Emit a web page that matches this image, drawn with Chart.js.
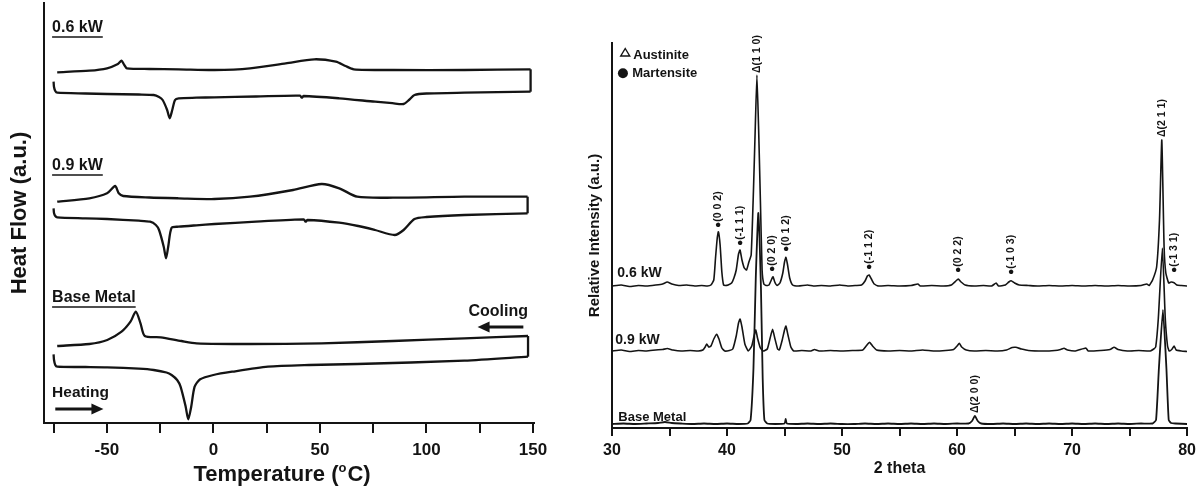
<!DOCTYPE html>
<html>
<head>
<meta charset="utf-8">
<script src="https://cdn.jsdelivr.net/npm/chart.js@4.4.0/dist/chart.umd.min.js"></script>
<style>
  html, body { margin: 0; padding: 0; background: #fff; }
  #wrap { position: relative; width: 1201px; height: 491px; overflow: hidden; }
  #dsc { position: absolute; left: 0; top: 0; }
  #xrd { position: absolute; left: 560px; top: 0; }
</style>
</head>
<body>
<div id="wrap">
  <canvas id="dsc" width="560" height="491"></canvas>
  <canvas id="xrd" width="641" height="491"></canvas>
</div>
<script>
// ---- DSC panel (temperature in °C, heat flow in a.u.) ----
const tempTicks = [-75, -50, -25, 0, 25, 50, 75, 100, 125, 150];
const tempLabels = [-50, 0, 50, 100, 150];

const heat06 = [[-75, 341.3], [-74.8, 336], [-74.2, 332], [-73.3, 330.3], [-60, 329.5], [-49.9, 329], [-35, 328.5], [-28, 328], [-25.5, 326], [-23.8, 323], [-21.7, 313], [-20.5, 304.7], [-19.3, 313], [-18, 323], [-16.3, 324.7], [-8, 325.3], [0.5, 325.7], [20, 326.5], [40.7, 327.3], [41.5, 325.3], [42.4, 327], [59.1, 324.7], [75.9, 321.3], [84, 319.8], [89.3, 319], [91.8, 323], [94.4, 328], [100, 329.5], [117.8, 330.3], [148.9, 331.3]];
const cool06 = [[-73.3, 350.7], [-58.2, 352.3], [-49.9, 354.7], [-44.8, 359], [-43.1, 362.3], [-41.8, 358], [-40.6, 354.7], [-30, 354], [-16.3, 353.7], [0.5, 353], [17.2, 354.7], [34, 359.7], [47.4, 363.7], [57.5, 361.3], [62, 357], [65.9, 353.7], [84.3, 353], [117.8, 353], [148.9, 353.7]];

const heat09 = [[-75, 214.7], [-74.8, 210], [-74.2, 207], [-73.3, 205.7], [-60, 204.7], [-49.9, 204], [-35, 202.3], [-29.7, 201.3], [-27, 198], [-25.5, 193], [-23.3, 176.3], [-22.2, 164.7], [-21.2, 176.3], [-19.6, 195.3], [-16.3, 196.3], [-8, 197.7], [0.5, 199], [20, 201.3], [42.4, 203.7], [43.3, 201.3], [44.2, 203], [59.1, 200.3], [68, 197], [75.9, 193], [85.1, 188], [89.3, 193], [94.4, 204], [100, 206], [117.8, 208], [147.5, 209.7]];
const cool09 = [[-73.3, 221.3], [-58.2, 224.7], [-49.9, 229.7], [-46.1, 237], [-44.4, 229.7], [-42.3, 227], [-30, 225.5], [-16.3, 224.7], [0.5, 224], [17.2, 226.3], [37.4, 233], [50.8, 239], [59.1, 234.7], [67.5, 226.3], [84.3, 225.3], [117.8, 226.3], [147.5, 226.3]];

const heatBase = [[-75, 68.7], [-74.8, 63], [-74.2, 58], [-73.3, 56.3], [-60, 56], [-49.9, 55.7], [-35, 54.3], [-28, 53], [-22, 50.5], [-19.6, 48], [-17, 43], [-15.4, 36.3], [-13, 16.3], [-11.8, 3.7], [-10.4, 16.3], [-8.8, 36.3], [-6.2, 43.7], [0, 48], [8.8, 51.3], [25.6, 56.3], [45, 58], [67.5, 59], [117.8, 62.3], [147.7, 66.3]];
const coolBase = [[-73.3, 77], [-58.2, 79], [-49.8, 83], [-43.1, 91.3], [-38.9, 101.3], [-36.4, 111.3], [-34.2, 99.7], [-32.2, 87], [-24.7, 85.7], [-15, 82], [-7.9, 79.7], [17.2, 79], [50.8, 79.7], [84.3, 82], [117.8, 84.7], [147.7, 87]];

const dscTags = [["0.6 kW", -75.7, 395], ["0.9 kW", -75.7, 257], ["Base Metal", -75.7, 125]];
const coolWord = ["Cooling", 147.7, 111];
const heatWord = ["Heating", -75.7, 30];
const coolArrow = [145.5, 124, 96];
const heatArrow = [-74.2, -51.6, 14];

// ---- XRD panel (2 theta in degrees, relative intensity in a.u.) ----
const thetaTicks = [30, 35, 40, 45, 50, 55, 60, 65, 70, 75, 80];
const thetaLabels = [30, 40, 50, 60, 70, 80];

const xrd06 = [[30, 142], [30.8, 143], [31.5, 141.5], [32.3, 142.5], [33, 142], [33.8, 143], [34.4, 144], [34.8, 146], [35.2, 144], [35.8, 142.5], [36.5, 143], [37.2, 142], [37.8, 142.5], [38.3, 142], [38.6, 143], [38.85, 148], [39, 170], [39.15, 190], [39.25, 196.3], [39.4, 183], [39.55, 156], [39.7, 143], [39.85, 142.5], [40.1, 143], [40.4, 145], [40.6, 150], [40.8, 158], [41, 174], [41.13, 178], [41.3, 168], [41.5, 160], [41.7, 158], [41.9, 166], [42.1, 173], [42.3, 238], [42.45, 298], [42.6, 353], [42.75, 298], [42.9, 228], [43.05, 158], [43.2, 144], [43.4, 142.5], [43.65, 143], [43.85, 148], [44, 151.3], [44.15, 146], [44.35, 142.5], [44.6, 145], [44.85, 155], [45, 166], [45.12, 170.7], [45.25, 164], [45.45, 150], [45.7, 143], [46.2, 142], [47, 143], [47.5, 142], [48.2, 142.5], [49, 142], [49.8, 143], [50.5, 142], [51.2, 142.5], [51.7, 143], [52, 147], [52.2, 152], [52.35, 153], [52.55, 149], [52.8, 144], [53.2, 142], [54, 142.5], [55, 142], [56, 142.5], [56.6, 144], [56.8, 142], [57.8, 142.5], [58.8, 142], [59.5, 143], [59.9, 147], [60.1, 149], [60.35, 146], [60.7, 143], [61.5, 142], [62.3, 142.5], [63, 142], [63.4, 145], [63.6, 142], [64.2, 143], [64.5, 146], [64.7, 147.3], [65, 145], [65.4, 143], [66.2, 142.5], [67, 142], [68, 142.5], [69, 142], [70, 142.5], [71, 142], [72, 142.5], [73, 142], [74, 142.5], [75, 142], [76, 142.5], [76.5, 144], [76.7, 142.5], [77, 148], [77.35, 161], [77.6, 208], [77.8, 288], [78, 181], [78.15, 155], [78.4, 145], [78.6, 146], [78.87, 145.3], [79.1, 143], [79.5, 142.5], [80, 142]];

const xrd09 = [[30, 77], [30.8, 78], [31.5, 76.5], [32.3, 77.5], [33, 77], [33.8, 78], [34.4, 78.5], [34.8, 79.5], [35.3, 78], [36, 77], [36.8, 77.5], [37.5, 77], [37.9, 78], [38.1, 81], [38.24, 84], [38.4, 81], [38.6, 82], [38.85, 89], [39.1, 93.7], [39.3, 89], [39.55, 80], [39.8, 77], [40.2, 77.5], [40.5, 79], [40.8, 92], [41, 105], [41.13, 109], [41.3, 101], [41.55, 84], [41.85, 77], [42.15, 82], [42.35, 92], [42.5, 98], [42.65, 90], [42.9, 80], [43.15, 77], [43.5, 79], [43.75, 90], [43.96, 98.7], [44.15, 90], [44.4, 79], [44.55, 78], [44.8, 88], [45, 98], [45.12, 102], [45.3, 93], [45.55, 81], [45.8, 77], [46.5, 77.5], [47.3, 77], [47.6, 78.5], [48, 77], [49, 77.5], [50, 77], [51, 77.5], [51.8, 78], [52.1, 82], [52.4, 85.7], [52.65, 82], [53, 78], [54, 77], [55, 77.5], [56, 77], [57, 78], [58, 77], [59, 77.5], [59.7, 78.5], [60, 82], [60.2, 84.7], [60.4, 81], [60.8, 78], [61.5, 77], [62.5, 77.5], [63.5, 77], [64.3, 78], [64.8, 80.5], [65.1, 80.7], [65.6, 79], [66.2, 77.5], [67.5, 77], [68.5, 77.5], [69, 78.5], [69.3, 79.7], [69.6, 78], [70.3, 77], [71.2, 80], [71.4, 77], [72.5, 77.5], [73.3, 78.5], [73.65, 80.7], [74, 78.5], [74.8, 77], [75.8, 77.5], [76.8, 77], [77.1, 79], [77.27, 81], [77.5, 110], [77.85, 180], [78.1, 110], [78.3, 82], [78.45, 77], [78.7, 79], [78.87, 82], [79.05, 78], [79.5, 77], [80, 76.5]];

const xrdBase = [[30, 4], [31, 4.5], [32, 4], [33, 4.5], [34, 5], [34.6, 6], [35.2, 5], [36, 4.5], [37, 4], [38, 4.5], [39, 4], [40, 4.5], [41, 4], [41.8, 4.5], [42.05, 8], [42.3, 60], [42.5, 150], [42.72, 215], [42.95, 140], [43.1, 50], [43.25, 8], [43.5, 4.5], [44.2, 4], [45, 4.5], [45.1, 9], [45.2, 4.5], [46, 4], [47, 4.5], [48, 4], [49, 4.5], [50, 4], [51, 4], [52, 4.5], [53, 4], [54, 4.5], [55, 4], [56, 4.5], [57, 4], [58, 4.5], [59, 4], [60, 4.5], [61, 4.5], [61.3, 7], [61.55, 12], [61.8, 7], [62.1, 4.5], [63, 4], [64, 4.5], [65, 4], [66, 4.5], [67, 4], [68, 4.5], [69, 4], [70, 4.5], [71, 4], [72, 4.5], [73, 4], [74, 4.5], [75, 4], [76, 4.5], [77, 4.5], [77.3, 8], [77.55, 60], [77.9, 118], [78.2, 60], [78.4, 8], [78.6, 5], [79, 4.5], [80, 4]];

const peakTags = [
  ["\u25CF(0 0 2)", 39.25, 200], ["\u25CF(-1 1 1)", 41.13, 182], ["\u0394(1 1 0)", 42.6, 355],
  ["\u25CF(0 2 0)", 43.95, 156], ["\u25CF(0 1 2)", 45.12, 176], ["\u25CF(-1 1 2)", 52.35, 158],
  ["\u25CF(0 2 2)", 60.12, 155], ["\u25CF(-1 0 3)", 64.7, 153], ["\u0394(2 1 1)", 77.8, 291],
  ["\u25CF(-1 3 1)", 78.9, 155], ["\u0394(2 0 0)", 61.6, 15]
];
const xrdTags = [["0.6 kW", 30.46, 155, 14], ["0.9 kW", 30.29, 88, 14], ["Base Metal", 30.55, 11, 13]];
const phaseKey = [["Austinite", 31.85, 373, 31.15, 375.5], ["Martensite", 31.76, 355, 30.95, 354.7]];

const ink = "#141414";
const face = '"Liberation Sans", Arial, sans-serif';
Chart.defaults.font.family = face;
Chart.defaults.color = ink;

function toPoints(pairs) {
  return pairs.map(([x, y]) => ({ x, y }));
}

// heating trace, cooling trace and the straight join at the hot end
function dscLoop(heat, cool) {
  const common = { borderColor: ink, borderWidth: 2.3, pointRadius: 0, showLine: true, fill: false };
  return [
    { ...common, data: toPoints(heat), tension: 0.25 },
    { ...common, data: toPoints(cool), tension: 0.25 },
    { ...common, data: toPoints([heat[heat.length - 1], cool[cool.length - 1]]), tension: 0 },
  ];
}

function drawArrow(ctx, x0, x1, yy) {
  const dir = Math.sign(x1 - x0);
  ctx.lineWidth = 3;
  ctx.beginPath();
  ctx.moveTo(x0, yy);
  ctx.lineTo(x1 - dir * 8, yy);
  ctx.stroke();
  ctx.beginPath();
  ctx.moveTo(x1, yy);
  ctx.lineTo(x1 - dir * 12, yy - 5.5);
  ctx.lineTo(x1 - dir * 12, yy + 5.5);
  ctx.closePath();
  ctx.fill();
}

const dscNotes = {
  id: "dscNotes",
  afterDraw(chart) {
    const { ctx, scales: { x, y }, chartArea } = chart;
    ctx.save();
    ctx.fillStyle = ink;
    ctx.strokeStyle = ink;
    ctx.textBaseline = "middle";
    ctx.textAlign = "left";
    ctx.font = `bold 16px ${face}`;
    for (const [text, tx, ty] of dscTags) {
      const px = x.getPixelForValue(tx);
      const py = y.getPixelForValue(ty);
      ctx.fillText(text, px, py);
      const w = ctx.measureText(text).width;
      ctx.lineWidth = 1.3;
      ctx.beginPath();
      ctx.moveTo(px, py + 9);
      ctx.lineTo(px + w, py + 9);
      ctx.stroke();
    }
    ctx.textAlign = "right";
    ctx.fillText(coolWord[0], x.getPixelForValue(coolWord[1]), y.getPixelForValue(coolWord[2]));
    ctx.textAlign = "left";
    ctx.font = `bold 15.5px ${face}`;
    ctx.fillText(heatWord[0], x.getPixelForValue(heatWord[1]), y.getPixelForValue(heatWord[2]));
    drawArrow(ctx, x.getPixelForValue(coolArrow[0]), x.getPixelForValue(coolArrow[1]), y.getPixelForValue(coolArrow[2]));
    drawArrow(ctx, x.getPixelForValue(heatArrow[0]), x.getPixelForValue(heatArrow[1]), y.getPixelForValue(heatArrow[2]));

    // axis title with a raised "o" for degrees
    const big = `bold 22px ${face}`;
    const small = `bold 13px ${face}`;
    ctx.font = big;
    const w1 = ctx.measureText("Temperature (").width;
    const w3 = ctx.measureText("C)").width;
    ctx.font = small;
    const w2 = ctx.measureText("o").width + 1;
    const cx = (chartArea.left + chartArea.right) / 2 - 7;
    const base = chart.height - 10;
    let sx = cx - (w1 + w2 + w3) / 2;
    ctx.textBaseline = "alphabetic";
    ctx.font = big;
    ctx.fillText("Temperature (", sx, base);
    sx += w1;
    ctx.font = small;
    ctx.fillText("o", sx, base - 9);
    sx += w2;
    ctx.font = big;
    ctx.fillText("C)", sx, base);
    ctx.restore();
  },
};

const xrdNotes = {
  id: "xrdNotes",
  afterDraw(chart) {
    const { ctx, scales: { x, y } } = chart;
    ctx.save();
    ctx.fillStyle = ink;
    ctx.strokeStyle = ink;
    ctx.font = `bold 10.5px ${face}`;
    ctx.textBaseline = "middle";
    ctx.textAlign = "left";
    for (const [text, t, v] of peakTags) {
      ctx.save();
      ctx.translate(x.getPixelForValue(t), y.getPixelForValue(v));
      ctx.rotate(-Math.PI / 2);
      ctx.fillText(text, 0, 0);
      ctx.restore();
    }
    for (const [text, t, v, size] of xrdTags) {
      ctx.font = `bold ${size}px ${face}`;
      ctx.fillText(text, x.getPixelForValue(t), y.getPixelForValue(v));
    }
    ctx.font = `bold 13px ${face}`;
    phaseKey.forEach(([text, t, v, mt, mv], i) => {
      ctx.fillText(text, x.getPixelForValue(t), y.getPixelForValue(v));
      const mx = x.getPixelForValue(mt);
      const my = y.getPixelForValue(mv);
      if (i === 0) {
        ctx.lineWidth = 1.4;
        ctx.beginPath();
        ctx.moveTo(mx, my - 4);
        ctx.lineTo(mx + 4.5, my + 3.5);
        ctx.lineTo(mx - 4.5, my + 3.5);
        ctx.closePath();
        ctx.stroke();
      } else {
        ctx.beginPath();
        ctx.arc(mx, my, 5, 0, Math.PI * 2);
        ctx.fill();
      }
    });
    ctx.restore();
  },
};

const xrdLine = { borderColor: ink, pointRadius: 0, showLine: true, fill: false, tension: 0.15 };

new Chart(document.getElementById("dsc"), {
  type: "scatter",
  data: {
    datasets: [...dscLoop(heat06, cool06), ...dscLoop(heat09, cool09), ...dscLoop(heatBase, coolBase)],
  },
  options: {
    responsive: false,
    animation: false,
    events: [],
    layout: { padding: { left: 0, right: 26, top: 3, bottom: 0 } },
    plugins: { legend: { display: false }, tooltip: { enabled: false } },
    scales: {
      x: {
        type: "linear",
        min: -79.5,
        max: 150.5,
        afterBuildTicks: (axis) => {
          axis.ticks = tempTicks.map((v) => ({ value: v }));
        },
        afterFit: (scale) => {
          scale.height = 68;
        },
        ticks: {
          autoSkip: false,
          maxRotation: 0,
          padding: 7,
          color: ink,
          font: { size: 17, weight: "bold" },
          callback: (v) => (tempLabels.includes(v) ? String(v) : ""),
        },
        grid: { drawOnChartArea: false, color: ink, lineWidth: 2, tickLength: 10 },
        border: { color: ink, width: 2 },
      },
      y: {
        min: 0,
        max: 420,
        afterFit: (scale) => {
          scale.width = 44;
        },
        ticks: { display: false },
        grid: { drawOnChartArea: false, drawTicks: false },
        border: { color: ink, width: 2 },
        title: {
          display: true,
          text: "Heat Flow (a.u.)",
          color: ink,
          font: { size: 22, weight: "bold" },
          padding: { top: 7, bottom: 0 },
        },
      },
    },
  },
  plugins: [dscNotes],
});

new Chart(document.getElementById("xrd"), {
  type: "scatter",
  data: {
    datasets: [
      { ...xrdLine, data: toPoints(xrd06), borderWidth: 1.6 },
      { ...xrdLine, data: toPoints(xrd09), borderWidth: 1.6 },
      { ...xrdLine, data: toPoints(xrdBase), borderWidth: 1.8 },
    ],
  },
  options: {
    responsive: false,
    animation: false,
    events: [],
    layout: { padding: { left: 0, right: 13, top: 43, bottom: 0 } },
    plugins: { legend: { display: false }, tooltip: { enabled: false } },
    scales: {
      x: {
        type: "linear",
        min: 30,
        max: 80,
        afterBuildTicks: (axis) => {
          axis.ticks = thetaTicks.map((v) => ({ value: v }));
        },
        afterFit: (scale) => {
          scale.height = 63;
        },
        ticks: {
          autoSkip: false,
          maxRotation: 0,
          padding: 5,
          color: ink,
          font: { size: 16, weight: "bold" },
          callback: (v) => (thetaLabels.includes(v) ? String(v) : ""),
        },
        grid: { drawOnChartArea: false, color: ink, lineWidth: 2, tickLength: 8 },
        border: { color: ink, width: 2 },
        title: {
          display: true,
          text: "2 theta",
          color: ink,
          font: { size: 16, weight: "bold" },
          padding: { top: 0, bottom: 13 },
        },
      },
      y: {
        min: 0,
        max: 385,
        afterFit: (scale) => {
          scale.width = 52;
        },
        ticks: { display: false },
        grid: { drawOnChartArea: false, drawTicks: false },
        border: { color: ink, width: 2 },
        title: {
          display: true,
          text: "Relative Intensity (a.u.)",
          color: ink,
          font: { size: 15, weight: "bold" },
          padding: { top: 26, bottom: 0 },
        },
      },
    },
  },
  plugins: [xrdNotes],
});
</script>
</body>
</html>
